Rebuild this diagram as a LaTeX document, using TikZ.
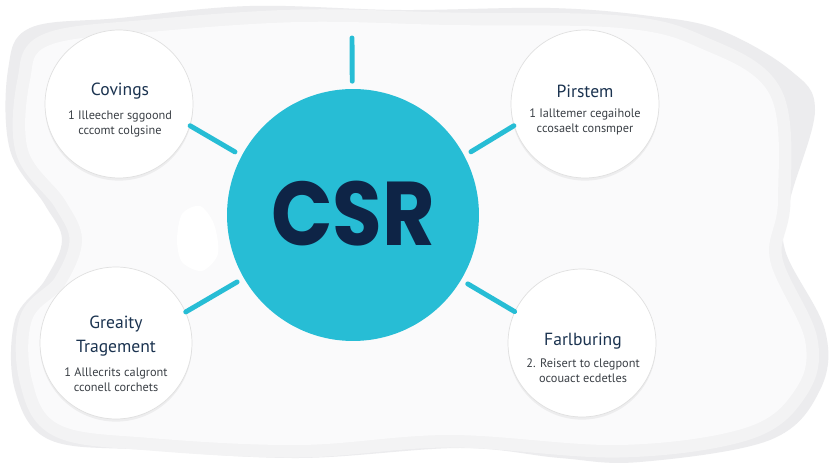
\documentclass[tikz,border=0pt]{standalone}
\usepackage{fontspec}
\setmainfont{PT Sans}
\newfontfamily\hubfont{Poppins}
\usetikzlibrary{positioning,shadows}
\definecolor{cteal}{HTML}{27BDD5}
\definecolor{cnavy}{HTML}{0E2446}
\definecolor{ctitle}{HTML}{1B3350}
\definecolor{cbody}{HTML}{3B4046}
\definecolor{cblob}{HTML}{ECECEE}
\definecolor{cblobmid}{HTML}{F3F3F4}
\definecolor{cblobin}{HTML}{FAFAFB}
\newcommand{\blobout}{plot[smooth cycle, tension=0.6] coordinates {(8,70) (30,28) (120,18) (250,6) (400,10)
   (550,8) (650,16) (720,30) (790,70) (815,110) (790,200) (785,250) (825,330) (820,390) (770,440) (640,462)
   (560,458) (460,448) (300,458) (150,450) (50,440) (15,390) (15,320) (45,280) (62,240) (45,205) (10,150)}}
\newcommand{\blobin}{plot[smooth cycle, tension=0.6] coordinates {(30,80) (50,45) (150,32) (300,22) (450,25)
   (620,28) (700,48) (770,95) (778,200) (770,260) (805,340) (795,390) (745,428) (620,445) (450,435)
   (300,445) (150,438) (60,425) (32,380) (32,320) (65,285) (82,240) (65,200) (28,150)}}

\begin{document}
\begin{tikzpicture}[x=0.02cm, y=-0.02cm,
  hub/.style={circle, fill=cteal, minimum size=5.04cm, inner sep=0},
  topic/.style={circle, fill=white, draw=black!12, line width=0.4pt, minimum size=2.96cm, inner sep=0,
    drop shadow={shadow xshift=0pt, shadow yshift=-1.5pt, opacity=0.10}},
  ttl/.style={font=\fontsize{10}{13.5}\selectfont, text=ctitle, align=center, inner sep=0},
  body/.style={font=\fontsize{7}{8.5}\selectfont, text=cbody, align=center, inner sep=0},
  link/.style={cteal, line width=2.8pt, line cap=round, shorten <=0.15cm}]
 \useasboundingbox (0,0) rectangle (833,469);
 \fill[white] (0,0) rectangle (833,469);
 % soft backdrop
 \fill[cblob] \blobout;
 \draw[cblobmid, line width=0.5cm, line join=round] \blobin;
 \fill[cblobin] \blobin;
 \fill[white] plot[smooth cycle] coordinates {(182,214) (200,206) (214,224) (218,254) (202,271) (182,262) (177,240)};

 % hub and topics
 \node[hub] (csr) at (353,215) {\raisebox{0.08cm}{\scalebox{1}[1.12]{\hubfont\bfseries\fontsize{46}{46}\selectfont\color{cnavy}CSR}}};
 \node[topic] (covings) at (119,104) {};
 \node[topic] (pirstem) at (585,104) {};
 \node[topic, minimum size=3.04cm] (greaity) at (116,343) {};
 \node[topic] (farlburing) at (582,343) {};
 \coordinate (spoke) at (352,38);

 \draw[link] (csr) -- (spoke);
 \draw[link] (csr.152) -- (covings.-17);
 \draw[link] (csr.28) -- (pirstem.197);
 \draw[link] (csr.210) -- (greaity.24);
 \draw[link] (csr.-31) -- (farlburing.155);

 \node[ttl] (covings-t) at (120,91) {Covings};
 \node[body, below=0.22cm of covings-t] (covings-b) {1 Illeecher sggoond\\cccomt colgsine};
 \node[ttl] (pirstem-t) at (585,91) {Pirstem};
 \node[body, below=0.22cm of pirstem-t] (pirstem-b) {1 Ialltemer cegaihole\\ccosaelt consmper};
 \node[ttl] (greaity-t) at (116,336) {Greaity\\Tragement};
 \node[body, below=0.22cm of greaity-t] (greaity-b) {1 Alllecrits calgront\\cconell corchets};
 \node[ttl] (farlburing-t) at (583,341) {Farlburing};
 \node[body, below=0.18cm of farlburing-t] (farlburing-b) {2. Reisert to clegpont\\ocouact ecdetles};
\end{tikzpicture}
\end{document}
